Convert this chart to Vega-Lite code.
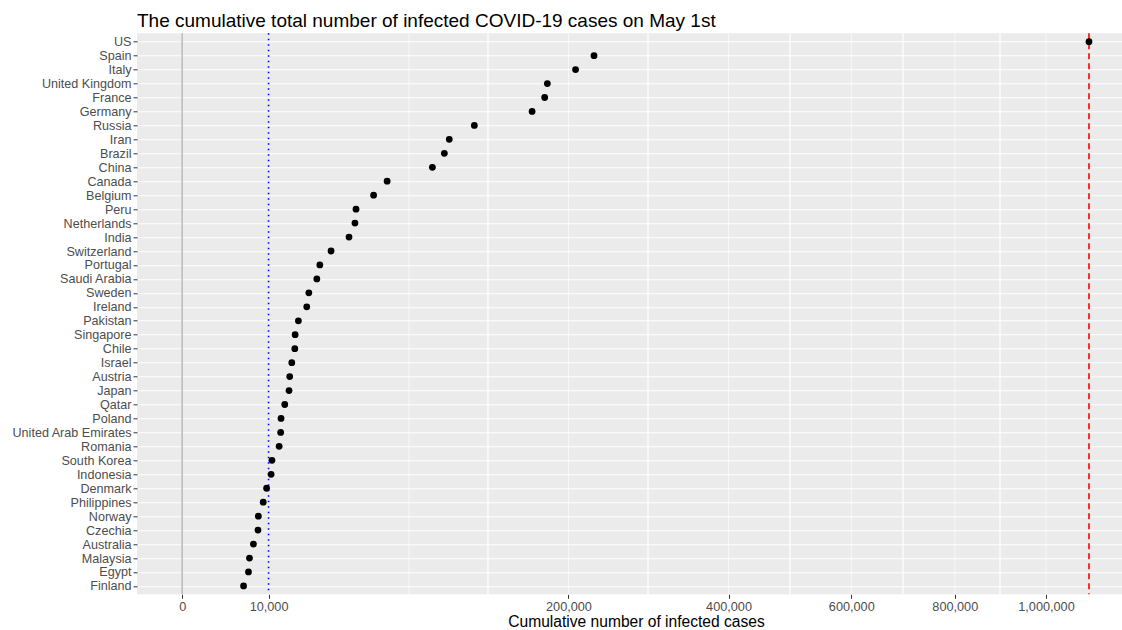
{
  "$schema": "https://vega.github.io/schema/vega-lite/v6.json",
  "width": 985,
  "height": 561,
  "autosize": {"type": "none"},
  "padding": {"left": 137, "top": 33.3, "right": 0, "bottom": 35.7},
  "background": "white",
  "config": {
    "view": {"fill": "#EBEBEB", "stroke": null},
    "font": "Liberation Sans"
  },
  "title": {
    "text": "The cumulative total number of infected COVID-19 cases on May 1st",
    "anchor": "start",
    "frame": "group",
    "fontSize": 19,
    "fontWeight": "normal",
    "color": "black",
    "font": "Liberation Sans",
    "offset": 2
  },
  "datasets": {
    "cases": [
      {"country": "US", "cases": 1102000},
      {"country": "Spain", "cases": 227300},
      {"country": "Italy", "cases": 207400},
      {"country": "United Kingdom", "cases": 178700},
      {"country": "France", "cases": 176100},
      {"country": "Germany", "cases": 164100},
      {"country": "Russia", "cases": 114400},
      {"country": "Iran", "cases": 95600},
      {"country": "Brazil", "cases": 92100},
      {"country": "China", "cases": 83900},
      {"country": "Canada", "cases": 56300},
      {"country": "Belgium", "cases": 49100},
      {"country": "Peru", "cases": 40500},
      {"country": "Netherlands", "cases": 40000},
      {"country": "India", "cases": 37300},
      {"country": "Switzerland", "cases": 29700},
      {"country": "Portugal", "cases": 25400},
      {"country": "Saudi Arabia", "cases": 24300},
      {"country": "Sweden", "cases": 21500},
      {"country": "Ireland", "cases": 20800},
      {"country": "Pakistan", "cases": 18100},
      {"country": "Singapore", "cases": 17100},
      {"country": "Chile", "cases": 17000},
      {"country": "Israel", "cases": 16100},
      {"country": "Austria", "cases": 15500},
      {"country": "Japan", "cases": 15300},
      {"country": "Qatar", "cases": 14100},
      {"country": "Poland", "cases": 13100},
      {"country": "United Arab Emirates", "cases": 13000},
      {"country": "Romania", "cases": 12600},
      {"country": "South Korea", "cases": 10800},
      {"country": "Indonesia", "cases": 10600},
      {"country": "Denmark", "cases": 9550},
      {"country": "Philippines", "cases": 8800},
      {"country": "Norway", "cases": 7780},
      {"country": "Czechia", "cases": 7700},
      {"country": "Australia", "cases": 6800},
      {"country": "Malaysia", "cases": 6070},
      {"country": "Egypt", "cases": 5890},
      {"country": "Finland", "cases": 5050}
    ],
    "grid": [
      {"g": 68940, "kind": "minor"},
      {"g": 125300, "kind": "major"},
      {"g": 200000, "kind": "minor"},
      {"g": 290800, "kind": "major"},
      {"g": 400000, "kind": "minor"},
      {"g": 495100, "kind": "major"},
      {"g": 600000, "kind": "minor"},
      {"g": 696300, "kind": "major"},
      {"g": 800000, "kind": "minor"},
      {"g": 896300, "kind": "major"},
      {"g": 1000000, "kind": "minor"}
    ]
  },
  "layer": [
    {
      "data": {"name": "grid"},
      "mark": {"type": "rule", "color": "white"},
      "encoding": {
        "x": {"field": "g", "type": "quantitative"},
        "strokeWidth": {
          "field": "kind",
          "type": "nominal",
          "scale": {"domain": ["major", "minor"], "range": [1.2, 0.6]},
          "legend": null
        }
      }
    },
    {
      "data": {"values": [{"v": 0}]},
      "mark": {"type": "rule", "color": "#BEBEBE", "strokeWidth": 1.6},
      "encoding": {"x": {"field": "v", "type": "quantitative"}}
    },
    {
      "data": {"values": [{"v": 10000}]},
      "mark": {"type": "rule", "color": "blue", "strokeWidth": 1.6, "strokeDash": [1.5, 4]},
      "encoding": {"x": {"field": "v", "type": "quantitative"}}
    },
    {
      "data": {"values": [{"v": 1102000}]},
      "mark": {"type": "rule", "color": "red", "strokeWidth": 1.6, "strokeDash": [6, 4]},
      "encoding": {"x": {"field": "v", "type": "quantitative"}}
    },
    {
      "data": {"name": "cases"},
      "mark": {"type": "point", "filled": true, "color": "black", "opacity": 1, "size": 46},
      "encoding": {
        "x": {
          "field": "cases",
          "type": "quantitative",
          "scale": {"type": "sqrt", "domain": [-2735, 1183700], "nice": false, "zero": false},
          "axis": {
            "values": [0, 10000, 200000, 400000, 600000, 800000, 1000000],
            "format": ",d",
            "grid": false,
            "domain": false,
            "tickColor": "#333333",
            "tickSize": 4,
            "labelColor": "#4D4D4D",
            "labelFontSize": 12.7,
            "labelPadding": 2,
            "labelFont": "Liberation Sans",
            "title": "Cumulative number of infected cases",
            "titleFontSize": 15.6,
            "titleFontWeight": "normal",
            "titleColor": "black",
            "titleFont": "Liberation Sans",
            "titlePadding": 1,
            "titleX": 499
          }
        },
        "y": {
          "field": "country",
          "type": "nominal",
          "sort": null,
          "scale": {"type": "point", "padding": 0.6},
          "axis": {
            "title": null,
            "grid": true,
            "gridColor": "white",
            "gridWidth": 1.1,
            "domain": false,
            "tickColor": "#333333",
            "tickSize": 4,
            "labelColor": "#4D4D4D",
            "labelFontSize": 12.6,
            "labelPadding": 2,
            "labelFont": "Liberation Sans"
          }
        }
      }
    }
  ]
}
